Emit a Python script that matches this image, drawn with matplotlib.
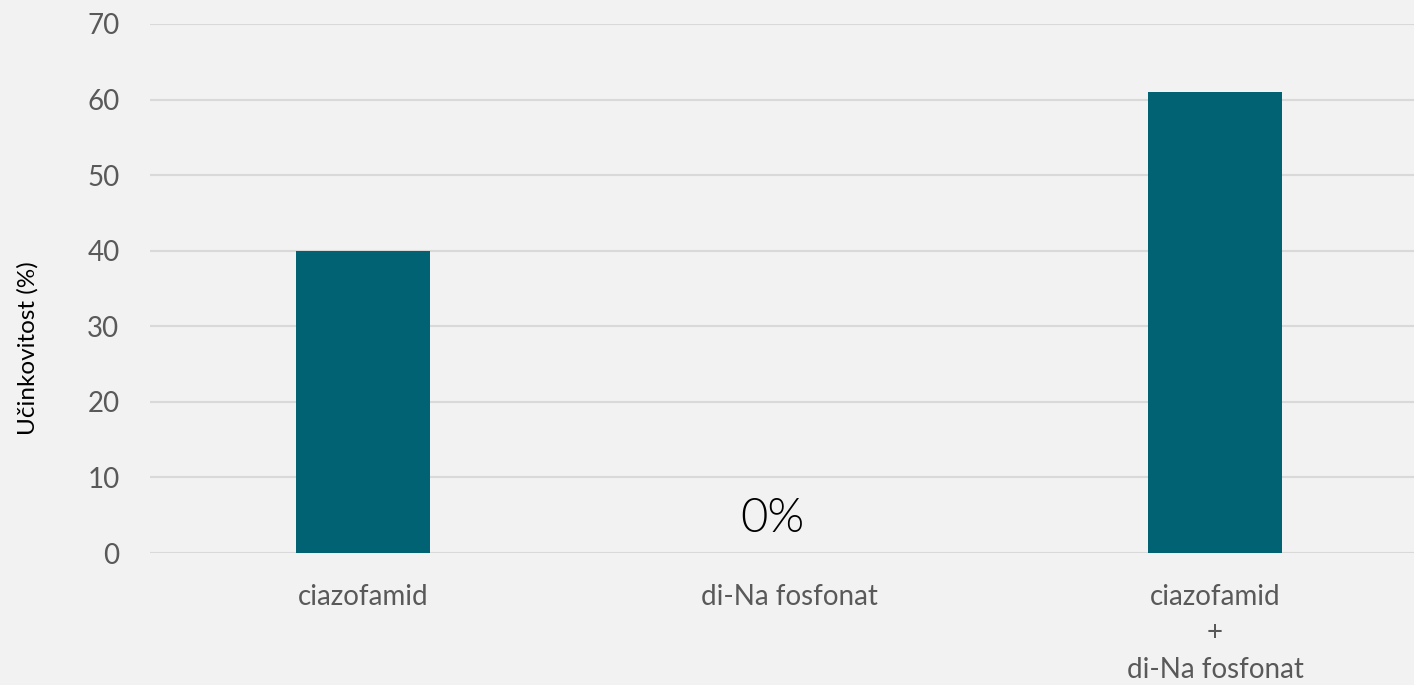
import matplotlib.pyplot as plt

plt.rcParams['font.family'] = ['Lato', 'DejaVu Sans']

categories = ['ciazofamid', 'di-Na fosfonat', 'ciazofamid\n+\ndi-Na fosfonat']
values = [40, 0, 61]
yticks = [0, 10, 20, 30, 40, 50, 60, 70]

bg = '#f2f2f2'
fig = plt.figure(figsize=(14.14, 6.85), dpi=100, facecolor=bg)
ax = fig.add_axes([150 / 1414, 1 - 553 / 685, 1278 / 1414, 529 / 685], facecolor=bg)

x = range(len(categories))
ax.bar(x, values, width=0.315, color='#006272', zorder=2)

# zero value label for the empty bar
ax.text(0.962, 2.8, '0%', ha='center', va='baseline', fontsize=34,
        fontweight=300, color='black')

ax.set_xlim(-0.5, 2.5)
ax.set_ylim(0, 70)
ax.set_yticks(yticks)
ax.set_xticks(list(x))
ax.set_xticklabels(categories, linespacing=1.5, fontsize=21.5)
ax.grid(axis='y', color='#d9d9d9', linewidth=1.5, zorder=0)
ax.tick_params(axis='both', length=0, labelsize=20, colors='#595959')
ax.tick_params(axis='x', pad=22)
ax.tick_params(axis='y', pad=22)
for s in ax.spines.values():
    s.set_visible(False)
ax.set_ylabel('Učinkovitost (%)', fontsize=17.5, color='black')
ax.yaxis.set_label_coords(-0.087, 0.388)

fig.savefig('out.png', dpi=100, facecolor=bg)
